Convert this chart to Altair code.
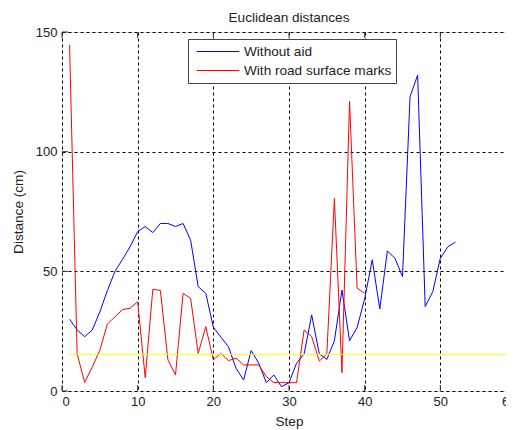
import altair as alt
import pandas as pd

# ---- data ----
steps_blue = list(range(1, 53))
without_aid = [30, 25.5, 22.7, 25.5, 33, 42, 50, 55, 60.3, 66.6,
               68.7, 66.2, 70, 70, 68.7, 70, 63, 43.6, 40.8, 26.7,
               22.5, 18.5, 9.5, 4.6, 16.9, 11.6, 3.5, 6.7, 1.8, 3.5,
               11.6, 15.5, 31.8, 15.5, 13.2, 21, 42.2, 21, 26.5, 38.5,
               54.8, 34.3, 58.5, 55.5, 47.8, 123, 132, 35.3, 41.5, 55.5,
               60.3, 62.2]
steps_red = list(range(1, 41))
with_marks = [144.6, 15.5, 3.6, 10, 17, 28, 31, 34, 34.6, 37.3,
              5.6, 42.5, 42, 13, 6.7, 40.8, 38.7, 15.7, 26.9, 13,
              15.7, 12.7, 13.7, 10.9, 10.9, 10.9, 6, 3.5, 3.5, 3.5,
              3.5, 25.5, 22.7, 12.5, 15.5, 80.5, 7.7, 121, 43, 40.8]
threshold_value = 15.3
threshold_start, threshold_end = 1, 60

series_names = ["Without aid", "With road surface marks"]
series_colors = ["#0000ff", "#ff0000"]
x_ticks = [0, 10, 20, 30, 40, 50, 60]
y_ticks = [0, 50, 100, 150]

W, H = 454, 359
FONT = "Liberation Sans"
TXT = "#222222"
FS = 13.6

blue_df = pd.DataFrame({"step": steps_blue, "value": without_aid, "series": series_names[0]})
red_df = pd.DataFrame({"step": steps_red, "value": with_marks, "series": series_names[1]})
thr_df = pd.DataFrame({"x": [threshold_start], "x2": [threshold_end], "y": [threshold_value]})
xt_df = pd.DataFrame({"t": x_ticks})
yt_df = pd.DataFrame({"t": y_ticks})

x_scale = alt.Scale(domain=[0, 60], nice=False, zero=False)
y_scale = alt.Scale(domain=[0, 150], nice=False)

color = alt.Color(
    "series:N",
    scale=alt.Scale(domain=series_names, range=series_colors),
    sort=series_names,
    legend=alt.Legend(
        title=None, orient="none", legendX=126, legendY=7,
        symbolType="stroke", symbolSize=1815, symbolStrokeWidth=1,
        clipHeight=17, rowPadding=2, padding=4, symbolOffset=4,
        labelOffset=4, labelFont=FONT, labelFontSize=FS, labelColor=TXT,
        labelLimit=400, fillColor="white", strokeColor="#444444",
    ),
)

x_enc = alt.X(
    "step:Q", scale=x_scale,
    axis=alt.Axis(values=x_ticks, title="Step", grid=True, gridDash=[3, 3],
                  gridColor="black", gridOpacity=1, ticks=False, tickSize=0,
                  domain=False, labelPadding=4, labelFont=FONT, labelFontSize=13,
                  labelColor=TXT, titleFont=FONT, titleFontSize=FS,
                  titleFontWeight="normal", titleColor=TXT, titleY=34,
                  titleBaseline="alphabetic"),
)
y_enc = alt.Y(
    "value:Q", scale=y_scale,
    axis=alt.Axis(values=y_ticks, title="Distance (cm)", grid=True, gridDash=[3, 3],
                  gridColor="black", gridOpacity=1, ticks=False, tickSize=0,
                  domain=False, labelPadding=5, labelFont=FONT, labelFontSize=13,
                  labelColor=TXT, titleFont=FONT, titleFontSize=FS,
                  titleFontWeight="normal", titleColor=TXT, titleX=-40,
                  titleY=H / 2, titleBaseline="alphabetic"),
)

blue = alt.Chart(blue_df).mark_line(strokeWidth=1).encode(x=x_enc, y=y_enc, color=color)
red = alt.Chart(red_df).mark_line(strokeWidth=1).encode(
    x=alt.X("step:Q", scale=x_scale), y=alt.Y("value:Q", scale=y_scale), color=color)
thr = alt.Chart(thr_df).mark_rule(color="#ffff00", strokeWidth=1).encode(
    x=alt.X("x:Q", scale=x_scale), x2="x2:Q", y=alt.Y("y:Q", scale=y_scale))

tick_col = "#333333"
xt_bottom = alt.Chart(xt_df).mark_rule(color=tick_col).encode(
    x=alt.X("t:Q", scale=x_scale), y=alt.value(H), y2=alt.value(H - 6))
xt_top = alt.Chart(xt_df).mark_rule(color=tick_col).encode(
    x=alt.X("t:Q", scale=x_scale), y=alt.value(0), y2=alt.value(6))
yt_left = alt.Chart(yt_df).mark_rule(color=tick_col).encode(
    y=alt.Y("t:Q", scale=y_scale), x=alt.value(0), x2=alt.value(6))
yt_right = alt.Chart(yt_df).mark_rule(color=tick_col).encode(
    y=alt.Y("t:Q", scale=y_scale), x=alt.value(W), x2=alt.value(W - 6))

chart = alt.layer(blue, red, thr, xt_bottom, xt_top, yt_left, yt_right).properties(
    width=W, height=H,
    title=alt.TitleParams("Euclidean distances", font=FONT, fontSize=FS,
                          fontWeight="normal", color=TXT, offset=1),
    autosize=alt.AutoSizeParams(type="none"),
    padding={"left": 54, "top": 24, "right": -10, "bottom": 39},
).configure_view(stroke="#333333", strokeWidth=1).configure(background="white")

chart.save("out.html", embed_options={"renderer": "svg", "actions": False})
